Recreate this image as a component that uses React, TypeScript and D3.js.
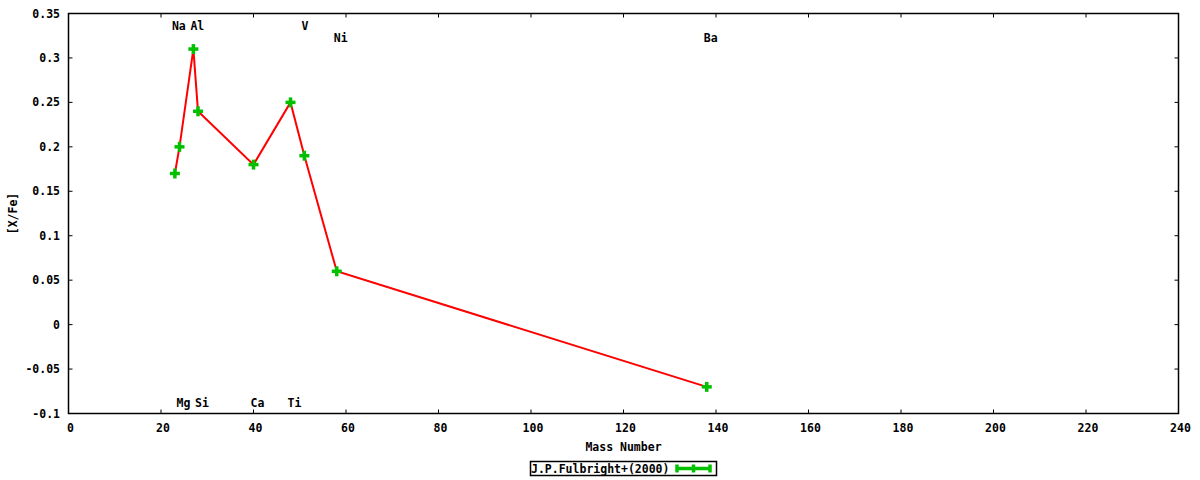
import React from "react";
import * as d3 from "d3";

const elements = ["Na", "Mg", "Al", "Si", "Ca", "Ti", "V", "Ni", "Ba"];
const massNumbers = [23, 24, 27, 28, 40, 48, 51, 58, 138];
const xFe = [0.17, 0.2, 0.31, 0.24, 0.18, 0.25, 0.19, 0.06, -0.07];
// label row: 0 = top row, 1 = second row, 2 = bottom row
const labelRows = [0, 2, 0, 2, 2, 2, 0, 1, 1];
const xTicks = [0, 20, 40, 60, 80, 100, 120, 140, 160, 180, 200, 220, 240];
const yTicks = [-0.1, -0.05, 0, 0.05, 0.1, 0.15, 0.2, 0.25, 0.3, 0.35];
const seriesName = "J.P.Fulbright+(2000)";
const xTitle = "Mass Number";
const yTitle = "[X/Fe]";

const W = 1200;
const H = 480;
const L = 68.5;
const R = 1178.5;
const T = 13.5;
const B = 413.5;
const GREEN = "#00c000";
const RED = "#ff0000";
const FONT = "'DejaVu Sans Mono', monospace";

function Plus({ x, y, s = 5 }: { x: number; y: number; s?: number }) {
  return (
    <g stroke={GREEN} strokeWidth={3.5}>
      <line x1={x - s} x2={x + s} y1={y} y2={y} />
      <line x1={x} x2={x} y1={y - s} y2={y + s} />
    </g>
  );
}

export default function App() {
  const x = d3.scaleLinear().domain([0, 240]).range([L, R]);
  const y = d3.scaleLinear().domain([-0.1, 0.35]).range([B, T]);
  const pts = massNumbers.map((m, i) => [m, xFe[i]] as [number, number]);
  const line = d3
    .line<[number, number]>()
    .x((d) => x(d[0]))
    .y((d) => y(d[1]))(pts);
  const rowY = [26, 38, 403];
  const fmt = (v: number) => {
    const r = Math.round(v * 100) / 100;
    return String(r);
  };
  const tick = 4;
  const lx0 = 676;
  const lx1 = 711;
  const ly = 468.5;

  return (
    <svg
      width={W}
      height={H}
      style={{ position: "absolute", left: 0, top: 0, background: "#fff" }}
      fontFamily={FONT}
      fontWeight="bold"
      fontSize={11.5}
    >
      <rect width={W} height={H} fill="#fff" />
      {/* ticks */}
      <g stroke="#000" strokeWidth={1}>
        {xTicks.map((t) => (
          <g key={"xt" + t}>
            <line x1={x(t)} x2={x(t)} y1={B} y2={B - tick} />
            <line x1={x(t)} x2={x(t)} y1={T} y2={T + tick} />
          </g>
        ))}
        {yTicks.map((t) => (
          <g key={"yt" + t}>
            <line x1={L} x2={L + tick} y1={y(t)} y2={y(t)} />
            <line x1={R} x2={R - tick} y1={y(t)} y2={y(t)} />
          </g>
        ))}
      </g>
      {xTicks.map((t) => (
        <text key={"xl" + t} x={x(t) + 2} y={432} textAnchor="middle" fill="#000">
          {t}
        </text>
      ))}
      {yTicks.map((t) => (
        <text
          key={"yl" + t}
          x={60}
          y={y(t) + 4}
          textAnchor="end"
          fill="#000"
        >
          {fmt(t)}
        </text>
      ))}
      <text x={(L + R) / 2} y={451} textAnchor="middle" fill="#000">
        {xTitle}
      </text>
      <text
        transform={`translate(17,${(T + B) / 2}) rotate(-90)`}
        textAnchor="middle"
        fill="#000"
      >
        {yTitle}
      </text>
      {/* element labels */}
      {elements.map((e, i) => (
        <text
          key={"el" + e}
          x={x(massNumbers[i]) - 3}
          y={rowY[labelRows[i]] + 4}
          textAnchor="start"
          fill="#000"
        >
          {e}
        </text>
      ))}
      {/* data */}
      <path d={line || ""} fill="none" stroke={RED} strokeWidth={2} />
      {pts.map((p, i) => (
        <Plus key={"p" + i} x={x(p[0])} y={y(p[1])} />
      ))}
      {/* frame */}
      <rect
        x={L}
        y={T}
        width={R - L}
        height={B - T}
        fill="none"
        stroke="#000"
        strokeWidth={1.5}
      />
      {/* legend */}
      <rect
        x={530.5}
        y={461.5}
        width={186}
        height={14}
        fill="#fff"
        stroke="#000"
        strokeWidth={1.5}
      />
      <text x={531} y={472.5} fill="#000">
        {seriesName}
      </text>
      <g stroke={GREEN} strokeWidth={3.5}>
        <line x1={lx0} x2={lx1} y1={ly} y2={ly} />
        <line x1={lx0 + 1} x2={lx0 + 1} y1={ly - 4} y2={ly + 4} />
        <line x1={lx1 - 1} x2={lx1 - 1} y1={ly - 4} y2={ly + 4} />
        <line
          x1={(lx0 + lx1) / 2}
          x2={(lx0 + lx1) / 2}
          y1={ly - 4}
          y2={ly + 4}
        />
      </g>
    </svg>
  );
}
